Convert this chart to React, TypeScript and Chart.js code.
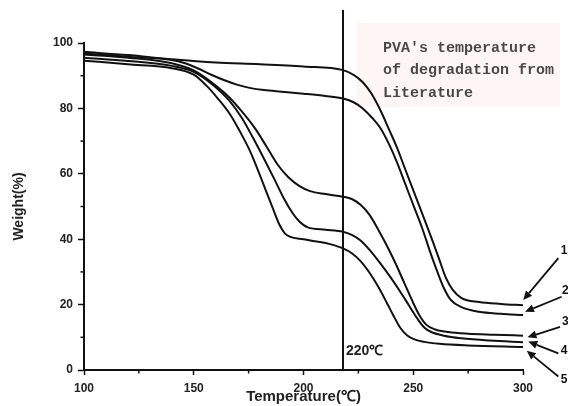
import { useEffect, useRef } from 'react';
import { Chart, registerables } from 'chart.js';

Chart.register(...registerables);

// ---- data (temperature °C, weight %) ----
const TEMP_1 = [100, 120, 140, 160, 180, 200, 218, 223, 227, 231, 235, 239, 242.6, 246, 250, 254, 258.5, 262, 265, 268, 272, 280, 290, 300];
const WEIGHT_1 = [97.3, 96.3, 95, 94, 93.5, 92.8, 91.7, 90.2, 88, 84.5, 79.5, 73.5, 68, 62, 55, 48, 40, 33.5, 28, 24.5, 22, 20.8, 20.2, 19.8];

const TEMP_2 = [100, 120, 140, 146, 152, 158, 164, 170, 176, 182, 190, 200, 210, 218, 223, 227, 231, 235, 239, 242.6, 246, 250, 254, 258, 261, 264, 267, 272, 280, 290, 300];
const WEIGHT_2 = [96.8, 95.8, 94.8, 93.8, 92.2, 90.3, 88.6, 87.2, 86.2, 85.6, 85.1, 84.5, 83.8, 83, 81.8, 80, 77.3, 74, 69, 63.5, 57.5, 50.5, 43.5, 35.5, 30, 25, 21.5, 19.2, 17.8, 17.2, 16.8];

const TEMP_3 = [100, 120, 140, 150, 160, 166, 172, 178, 183, 188, 193, 198, 203, 210, 218, 222, 226, 230, 234, 238, 242, 246, 250, 253, 256, 260, 266, 275, 287, 300];
const WEIGHT_3 = [96.5, 95.5, 93.8, 91.6, 87, 83.5, 79, 73.8, 68.5, 63, 59, 56.3, 54.7, 53.8, 53, 52.3, 50.5, 47.5, 43, 38, 32.5, 26.5, 20.5, 16.5, 13.8, 12.4, 11.6, 11.1, 10.8, 10.5];

const TEMP_4 = [100, 120, 140, 150, 160, 166, 172, 177, 183, 187, 191, 195, 198, 202, 210, 218, 222, 226, 230, 235, 240, 244, 248, 252, 255, 258, 264, 272, 285, 300];
const WEIGHT_4 = [95.5, 94.5, 93, 91.2, 86.5, 82.5, 77, 71, 63.3, 58, 52.5, 48, 45.5, 43.6, 42.9, 42.3, 41.3, 39.6, 36.8, 32.6, 28, 24, 19.8, 15.6, 13, 11.7, 10.5, 9.7, 9, 8.5];

const TEMP_5 = [100, 120, 140, 150, 156, 161, 166.5, 171, 175.6, 179, 182.5, 186, 189, 191.5, 194, 200, 206, 212, 218, 222, 226, 230, 234, 238, 241, 244, 247, 250, 255, 262, 275, 300];
const WEIGHT_5 = [94.6, 93.5, 92.3, 90.3, 86.8, 83, 78.2, 73, 67, 61.5, 55.5, 49.5, 44.5, 41.8, 40.7, 40, 39.3, 38.5, 37.2, 35.7, 33.3, 29.8, 25.5, 20.5, 16.6, 13, 10.7, 9.5, 8.6, 8, 7.5, 7];

const SERIES_TEMPS = [TEMP_1, TEMP_2, TEMP_3, TEMP_4, TEMP_5];
const SERIES_WEIGHTS = [WEIGHT_1, WEIGHT_2, WEIGHT_3, WEIGHT_4, WEIGHT_5];
const SERIES_LABELS = ['1', '2', '3', '4', '5'];

// arrows pointing at curve ends: tail [T, W] -> tip [T, W], label position [T, W]
const ARROW_TAILS = [[316.1, 34.2], [317.6, 22.4], [316.9, 13.2], [316.1, 5.1], [316.1, -2.0]];
const ARROW_TIPS = [[300.1, 21.4], [300.9, 17.8], [302.0, 10.0], [302.4, 8.7], [301.7, 5.9]];
const LABEL_POS = [[318.7, 36.6], [319.3, 24.3], [319.3, 14.9], [318.7, 5.8], [318.7, -3.0]];

const X_MIN = 100, X_MAX = 300, X_STEP = 50;
const Y_MIN = 0, Y_MAX = 100, Y_STEP = 20;
const X_MINOR = [125, 175, 225, 275];
const Y_MINOR = [10, 30, 50, 70, 90];

const VLINE_T = 218;
const VLINE_LABEL = '220℃';
const VLINE_LABEL_W = 5.8;

const NOTE_LINES = ["PVA's temperature", 'of degradation from', 'Literature'];

const X_TITLE = 'Temperature(℃)';
const Y_TITLE = 'Weight(%)';

const annotPlugin = {
  id: 'annot',
  beforeDatasetsDraw(chart: any) {
    const { ctx } = chart;
    ctx.save();
    ctx.fillStyle = '#fdf6f4';
    ctx.fillRect(357, 23, 203, 84);
    ctx.fillStyle = '#4a4a4a';
    ctx.font = 'bold 15px "Liberation Mono"';
    ctx.textBaseline = 'middle';
    ctx.textAlign = 'left';
    NOTE_LINES.forEach((t, i) => ctx.fillText(t, 383, 48 + i * 22.5));
    ctx.restore();
  },
  afterDraw(chart: any) {
    const { ctx, chartArea } = chart;
    const xs = chart.scales.x;
    const ys = chart.scales.y;
    ctx.save();
    ctx.strokeStyle = '#111';
    ctx.fillStyle = '#111';
    ctx.lineWidth = 1.5;
    for (const v of Y_MINOR) {
      const py = ys.getPixelForValue(v);
      ctx.beginPath();
      ctx.moveTo(chartArea.left - 3.5, py);
      ctx.lineTo(chartArea.left, py);
      ctx.stroke();
    }
    for (const v of X_MINOR) {
      const px = xs.getPixelForValue(v);
      ctx.beginPath();
      ctx.moveTo(px, chartArea.bottom);
      ctx.lineTo(px, chartArea.bottom + 3.5);
      ctx.stroke();
    }
    // vertical reference line
    const vx = xs.getPixelForValue(VLINE_T);
    ctx.lineWidth = 2;
    ctx.beginPath();
    ctx.moveTo(vx, 10);
    ctx.lineTo(vx, chartArea.bottom);
    ctx.stroke();
    ctx.font = 'bold 14px "Liberation Sans"';
    ctx.textBaseline = 'middle';
    ctx.textAlign = 'left';
    ctx.fillStyle = '#222';
    ctx.fillText(VLINE_LABEL, vx + 3, ys.getPixelForValue(VLINE_LABEL_W));

    // arrows & labels
    ctx.fillStyle = '#111';
    ctx.lineWidth = 1.8;
    for (let i = 0; i < ARROW_TIPS.length; i++) {
      const x0 = xs.getPixelForValue(ARROW_TAILS[i][0]);
      const y0 = ys.getPixelForValue(ARROW_TAILS[i][1]);
      const x1 = xs.getPixelForValue(ARROW_TIPS[i][0]);
      const y1 = ys.getPixelForValue(ARROW_TIPS[i][1]);
      const ang = Math.atan2(y1 - y0, x1 - x0);
      const hl = 9, hw = 4;
      const bx = x1 - hl * Math.cos(ang);
      const by = y1 - hl * Math.sin(ang);
      ctx.beginPath();
      ctx.moveTo(x0, y0);
      ctx.lineTo(bx, by);
      ctx.stroke();
      ctx.beginPath();
      ctx.moveTo(x1, y1);
      ctx.lineTo(bx + hw * Math.sin(ang), by - hw * Math.cos(ang));
      ctx.lineTo(bx - hw * Math.sin(ang), by + hw * Math.cos(ang));
      ctx.closePath();
      ctx.fill();
      ctx.font = 'bold 12px "Liberation Sans"';
      ctx.textAlign = 'center';
      ctx.fillText(SERIES_LABELS[i], xs.getPixelForValue(LABEL_POS[i][0]), ys.getPixelForValue(LABEL_POS[i][1]));
    }
    ctx.restore();
  },
};

export default function App() {
  const ref = useRef<HTMLCanvasElement>(null);
  useEffect(() => {
    if (!ref.current) return;
    const datasets = SERIES_TEMPS.map((temps, i) => ({
      label: SERIES_LABELS[i],
      data: temps.map((t, j) => ({ x: t, y: SERIES_WEIGHTS[i][j] })),
      borderColor: '#111',
      borderWidth: 2,
      pointRadius: 0,
      fill: false,
      cubicInterpolationMode: 'monotone' as const,
      tension: 0.4,
    }));
    const tickFont = { family: '"Liberation Sans", Arial, sans-serif', size: 12, weight: 'bold' as const };
    const chart = new Chart(ref.current, {
      type: 'line',
      data: { datasets },
      options: {
        animation: false,
        responsive: false,
        devicePixelRatio: 1,
        layout: { padding: { top: 43, right: 45, left: 0, bottom: 0 } },
        plugins: { legend: { display: false }, tooltip: { enabled: false } },
        scales: {
          x: {
            type: 'linear',
            min: X_MIN,
            max: X_MAX,
            afterFit: (s: any) => { s.height = 36; },
            ticks: { stepSize: X_STEP, color: '#222', font: tickFont, padding: 6, maxRotation: 0 },
            grid: { display: true, drawOnChartArea: false, drawTicks: true, tickLength: 5, tickColor: '#111', tickWidth: 1.5 },
            border: { display: true, color: '#111', width: 2 },
            title: { display: true, text: X_TITLE, color: '#222', font: { family: '"Liberation Sans", Arial, sans-serif', size: 15, weight: 'bold' }, padding: { top: 0, bottom: 0 } },
          },
          y: {
            type: 'linear',
            min: Y_MIN,
            max: Y_MAX,
            afterFit: (s: any) => { s.width = 84; },
            ticks: { stepSize: Y_STEP, color: '#222', font: tickFont, padding: 5 },
            grid: { display: true, drawOnChartArea: false, drawTicks: true, tickLength: 6, tickColor: '#111', tickWidth: 1.5 },
            border: { display: true, color: '#111', width: 2 },
            title: { display: true, text: Y_TITLE, color: '#222', font: { family: '"Liberation Sans", Arial, sans-serif', size: 14, weight: 'bold' }, padding: { top: 11, bottom: 0 } },
          },
        },
      },
      plugins: [annotPlugin],
    });
    return () => chart.destroy();
  }, []);
  return (
    <div style={{ position: 'fixed', left: 0, top: 0, width: 568, height: 406, background: '#fff' }}>
      <canvas ref={ref} width={568} height={406} style={{ width: 568, height: 406, display: 'block' }} />
    </div>
  );
}
